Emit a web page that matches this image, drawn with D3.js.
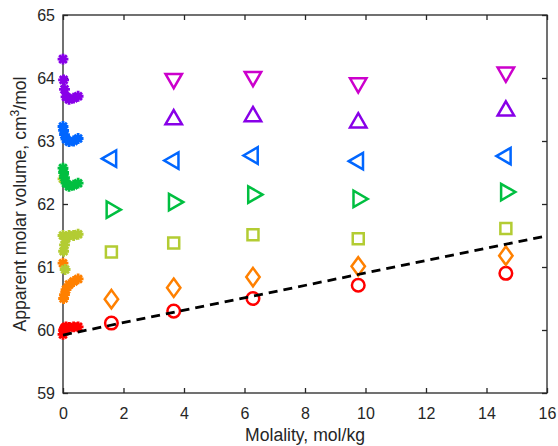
<!DOCTYPE html>
<html>
<head>
<meta charset="utf-8">
<script src="https://cdn.jsdelivr.net/npm/d3@7"></script>
<style>
  html, body { margin: 0; padding: 0; background: #fff; }
  svg { display: block; font-family: "Liberation Sans", Arial, Helvetica, sans-serif; }
</style>
</head>
<body>
<svg id="chart" width="558" height="446"></svg>
<script>
// Molalities of the concentrated solutions (mol/kg)
const molality = [1.60, 3.66, 6.28, 9.76, 14.64];
const molalityUpper = [3.66, 6.28, 9.76, 14.64];
// Molalities of the dilute solutions (mol/kg)
const molalityDilute = [0.00, 0.02, 0.05, 0.10, 0.20, 0.35, 0.50];

// Apparent molar volumes, cm3/mol
const redV      = [60.11, 60.30, 60.50, 60.71, 60.90];
const orangeV   = [60.49, 60.67, 60.84, 61.01, 61.18];
const yellowV   = [61.24, 61.38, 61.51, 61.45, 61.61];
const greenV    = [61.91, 62.03, 62.15, 62.08, 62.19];
const blueV     = [62.72, 62.69, 62.77, 62.68, 62.76];
const purpleV   = [63.34, 63.39, 63.29, 63.48];
const magentaV  = [63.99, 64.02, 63.92, 64.09];

// Dilute-solution values (same molalities as molalityDilute)
const redDilute    = [59.93, 60.00, 60.03, 60.05, 60.04, 60.05, 60.05];
const orangeDilute = [61.06, 60.50, 60.56, 60.64, 60.72, 60.77, 60.81];
const yellowDilute = [61.50, 61.25, 61.35, 61.45, 61.50, 61.50, 61.52];
const greenDilute  = [62.57, 62.50, 62.42, 62.33, 62.28, 62.30, 62.33];
const blueDilute   = [63.23, 63.17, 63.10, 63.03, 62.99, 63.00, 63.04];
const purpleDilute = [64.30, 63.97, 63.82, 63.70, 63.66, 63.68, 63.71];
// Two further dilute yellow-green readings
const yellowExtraM = [0.00, 0.07];
const yellowExtraV = [62.40, 60.96];

// Fitted limiting line: V = intercept + slope * m
const fitM = [0, 16];
const fitIntercept = 59.92;
const fitSlope = 0.0985;

const xTicks = [0, 2, 4, 6, 8, 10, 12, 14, 16];
const yTicks = [59, 60, 61, 62, 63, 64, 65];

const colors = {
  red: "#ff0000",
  orange: "#ff8000",
  yellow: "#b3cc33",
  green: "#00bf40",
  blue: "#0066ff",
  purple: "#8800e8",
  magenta: "#cc00cc"
};

const svg = d3.select("#chart");
const plotLeft = 63, plotRight = 547, plotTop = 15, plotBottom = 393;
const x = d3.scaleLinear().domain([0, 16]).range([plotLeft, plotRight]);
const y = d3.scaleLinear().domain([59, 65]).range([plotBottom, plotTop]);
const axisColor = "#262626";
const sw = 2.5;

// Marker shapes
function tri(angleDeg) {
  const R = 9.5; // circumradius, centred on the centroid
  const pts = [0, 120, 240].map(d => {
    const a = (angleDeg + d) * Math.PI / 180;
    return [R * Math.cos(a), R * Math.sin(a)];
  });
  return "M" + pts.map(p => p.join(",")).join("L") + "Z";
}
const shapes = {
  circle: () => { const r = 6.3; return `M${r},0A${r},${r} 0 1,1 ${-r},0A${r},${r} 0 1,1 ${r},0Z`; },
  diamond: () => { const w = 6.7, h = 9.2; return `M0,${-h}L${w},0L0,${h}L${-w},0Z`; },
  square: () => { const s = 5.5; return `M${-s},${-s}H${s}V${s}H${-s}Z`; },
  triUp: () => tri(-90),
  triDown: () => tri(90),
  triLeft: () => tri(180),
  triRight: () => tri(0),
  star: () => {
    const r = 5.4; let p = "";
    for (let k = 0; k < 4; k++) {
      const a = k * Math.PI / 4;
      const dx = r * Math.cos(a), dy = r * Math.sin(a);
      p += `M${-dx},${-dy}L${dx},${dy}`;
    }
    return p;
  }
};

function drawSeries(ms, vs, shape, color, cls) {
  const pts = ms.map((m, i) => ({ m, v: vs[i] }));
  svg.append("g").attr("class", cls)
    .selectAll("path").data(pts).join("path")
    .attr("transform", d => `translate(${x(d.m)},${y(d.v)})`)
    .attr("d", shapes[shape]())
    .attr("fill", "none")
    .attr("stroke", color)
    .attr("stroke-width", shape === "star" ? 2.8 : sw)
    .attr("stroke-linejoin", "miter")
    .attr("stroke-linecap", "butt");
}

// Axes box and ticks
svg.append("rect")
  .attr("x", plotLeft).attr("y", plotTop)
  .attr("width", plotRight - plotLeft).attr("height", plotBottom - plotTop)
  .attr("fill", "none").attr("stroke", axisColor).attr("stroke-width", 1.3);

const tickLen = 5;
const fmt = d3.format("d");
const gx = svg.append("g").attr("transform", `translate(0,${plotBottom})`)
  .call(d3.axisBottom(x).tickValues(xTicks).tickFormat(fmt).tickSizeInner(-tickLen).tickSizeOuter(0).tickPadding(14.5));
const gxTop = svg.append("g").attr("transform", `translate(0,${plotTop})`)
  .call(d3.axisTop(x).tickValues(xTicks).tickSizeInner(-tickLen).tickSizeOuter(0).tickFormat(""));
const gy = svg.append("g").attr("transform", `translate(${plotLeft},0)`)
  .call(d3.axisLeft(y).tickValues(yTicks).tickFormat(fmt).tickSizeInner(-tickLen).tickSizeOuter(0).tickPadding(8));
const gyRight = svg.append("g").attr("transform", `translate(${plotRight},0)`)
  .call(d3.axisRight(y).tickValues(yTicks).tickSizeInner(-tickLen).tickSizeOuter(0).tickFormat(""));
[gx, gxTop, gy, gyRight].forEach(g => {
  g.select(".domain").remove();
  g.selectAll(".tick line").attr("stroke", axisColor).attr("stroke-width", 1.3);
  g.selectAll(".tick text").attr("fill", axisColor).attr("font-size", 16)
    .attr("font-family", "'Liberation Sans', Arial, sans-serif");
});

// Data series
drawSeries(molalityDilute, redDilute, "star", colors.red, "red-dilute");
drawSeries(molality, redV, "circle", colors.red, "red");
drawSeries(molalityDilute, orangeDilute, "star", colors.orange, "orange-dilute");
drawSeries(molality, orangeV, "diamond", colors.orange, "orange");
drawSeries(yellowExtraM, yellowExtraV, "star", colors.yellow, "yellow-extra");
drawSeries(molalityDilute, yellowDilute, "star", colors.yellow, "yellow-dilute");
drawSeries(molality, yellowV, "square", colors.yellow, "yellow");
drawSeries(molalityDilute, greenDilute, "star", colors.green, "green-dilute");
drawSeries(molality, greenV, "triRight", colors.green, "green");
drawSeries(molalityDilute, blueDilute, "star", colors.blue, "blue-dilute");
drawSeries(molality, blueV, "triLeft", colors.blue, "blue");
drawSeries(molalityDilute, purpleDilute, "star", colors.purple, "purple-dilute");
drawSeries(molalityUpper, purpleV, "triUp", colors.purple, "purple");
drawSeries(molalityUpper, magentaV, "triDown", colors.magenta, "magenta");

// Fitted dashed line
const line = d3.line().x(m => x(m)).y(m => y(fitIntercept + fitSlope * m));
svg.append("path")
  .datum(fitM)
  .attr("d", line)
  .attr("fill", "none")
  .attr("stroke", "#000")
  .attr("stroke-width", 2.8)
  .attr("stroke-dasharray", "9,6");

// Axis labels
svg.append("text")
  .attr("x", (plotLeft + plotRight) / 2).attr("y", 441)
  .attr("text-anchor", "middle")
  .attr("fill", axisColor).attr("font-size", 17.6)
  .text("Molality, mol/kg");

const yl = svg.append("text")
  .attr("transform", `translate(26,${(plotTop + plotBottom) / 2}) rotate(-90)`)
  .attr("text-anchor", "middle")
  .attr("fill", axisColor).attr("font-size", 17.6);
yl.append("tspan").text("Apparent molar volume, cm");
yl.append("tspan").attr("font-size", 12).attr("dy", -7).text("3");
yl.append("tspan").attr("dy", 7).text("/mol");
</script>
</body>
</html>
